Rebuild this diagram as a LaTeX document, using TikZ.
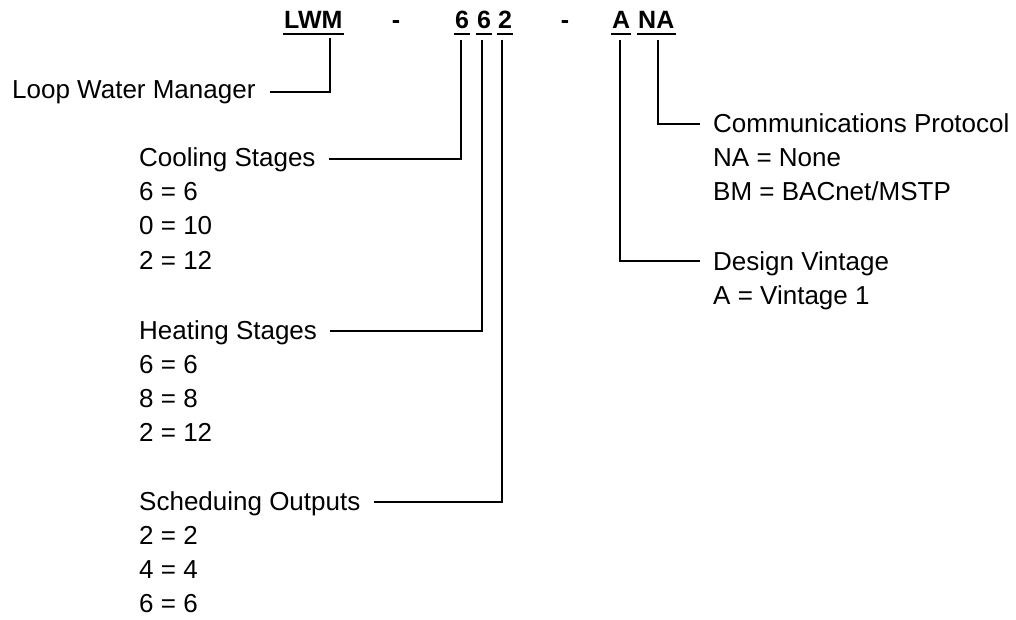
\documentclass[tikz,border=0pt]{standalone}
\usepackage{fontspec}
\setmainfont{Liberation Sans}
\begin{document}
\begin{tikzpicture}[x=1pt,y=-1pt,
  lbl/.style={inner sep=0pt, anchor=base west, font=\fontsize{26}{34}\selectfont},
  hdr/.style={inner sep=0pt, anchor=base west, font=\fontsize{25}{30}\selectfont\bfseries},
  conn/.style={line width=2pt, line join=miter}]
\useasboundingbox (0,0) rectangle (1016,620);
% header
\node[hdr] (lwm) at (284,29) {LWM};
\node[hdr, anchor=base] (d1) at (396,29) {-};
\node[hdr] (c6) at (455,29) {6};
\node[hdr] (h6) at (477,29) {6};
\node[hdr] (s2) at (498,29) {2};
\node[hdr, anchor=base] (d2) at (565,29) {-};
\node[hdr] (va) at (612,29) {A};
\node[hdr] (pna) at (638,29) {NA};
\foreach \n in {lwm,c6,h6,s2,va,pna}
  \draw[line width=2pt] ([shift={(-1,5)}]\n.base west) -- ([shift={(1,5)}]\n.base east);
\coordinate (tLWM) at (330,38);
\coordinate (tC) at (461,40);
\coordinate (tH) at (482,40);
\coordinate (tS) at (502,40);
\coordinate (tA) at (620,40);
\coordinate (tNA) at (658,40);
% left labels
\node[lbl] (loop) at (12,99) {Loop Water Manager};
\node[lbl] (cool) at (139,167) {Cooling Stages};
\node[lbl] (cool1) at (139,201) {6 = 6};
\node[lbl] (cool2) at (139,235) {0 = 10};
\node[lbl] (cool3) at (139,269) {2 = 12};
\node[lbl] (heat) at (139,339) {Heating Stages};
\node[lbl] (heat1) at (139,373) {6 = 6};
\node[lbl] (heat2) at (139,407) {8 = 8};
\node[lbl] (heat3) at (139,441) {2 = 12};
\node[lbl] (sched) at (139,510) {Scheduing Outputs};
\node[lbl] (sched1) at (139,544) {2 = 2};
\node[lbl] (sched2) at (139,578) {4 = 4};
\node[lbl] (sched3) at (139,612) {6 = 6};
% right labels
\node[lbl] (comm) at (713,133) {Communications Protocol};
\node[lbl] (comm1) at (713,167) {NA = None};
\node[lbl] (comm2) at (713,201) {BM = BACnet/MSTP};
\node[lbl] (des) at (713,270) {Design Vintage};
\node[lbl] (des1) at (713,304) {A = Vintage 1};
% connectors
\draw[conn] ([shift={(14,-7)}]loop.base east) -| (tLWM);
\draw[conn] ([shift={(13,-8)}]cool.base east) -| (tC);
\draw[conn] ([shift={(13,-8)}]heat.base east) -| (tH);
\draw[conn] ([shift={(13,-8)}]sched.base east) -| (tS);
\draw[conn] (tNA) |- ([shift={(-13,-9)}]comm.base west);
\draw[conn] (tA) |- ([shift={(-13,-9)}]des.base west);
\end{tikzpicture}
\end{document}
